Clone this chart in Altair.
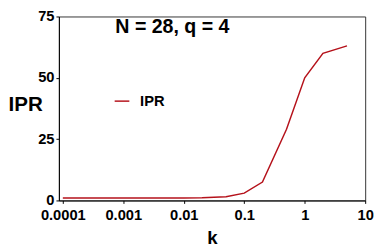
import altair as alt
import pandas as pd

k_vals = [0.0001, 0.001, 0.01, 0.02, 0.05, 0.1, 0.2, 0.5, 1, 2, 5]
ipr_vals = [1.0, 1.0, 1.0, 1.1, 1.5, 3.0, 7.5, 29.0, 50.0, 60.0, 63.0]
series = ["IPR"] * len(k_vals)
x_ticks = [0.0001, 0.001, 0.01, 0.1, 1, 10]
y_ticks = [0, 25, 50, 75]
title_text = "N = 28, q = 4"

df = pd.DataFrame({"k": k_vals, "IPR": ipr_vals, "series": series})

FONT = "Liberation Sans"

line = alt.Chart(df).mark_line(strokeWidth=1.5, clip=True).encode(
    x=alt.X("k:Q",
            scale=alt.Scale(type="log", domain=[10 ** -4.065, 10], nice=False),
            axis=alt.Axis(values=x_ticks, format="~g", title="k", grid=False,
                          labelFont=FONT, labelFontSize=15, labelFontWeight="bold",
                          labelColor="black", titleFont=FONT, titleFontSize=19,
                          titleFontWeight="bold", titleColor="black", tickSize=3,
                          labelPadding=4, titlePadding=7, domainColor="black",
                          tickColor="black", labelFlush=False, labelOverlap=False)),
    y=alt.Y("IPR:Q",
            scale=alt.Scale(domain=[0, 75], nice=False),
            axis=alt.Axis(values=y_ticks, title="IPR", grid=False,
                          labelFont=FONT, labelFontSize=15, labelFontWeight="bold",
                          labelColor="black", titleFont=FONT, titleFontSize=21,
                          titleFontWeight="bold", titleColor="black", titleAngle=0,
                          titleAlign="left", titleBaseline="middle", titleX=-52, titleY=90,
                          tickSize=3, labelPadding=2, labelOffset=-1, domainColor="black",
                          tickColor="black", labelFlush=False)),
    color=alt.Color("series:N",
                    scale=alt.Scale(domain=["IPR"], range=["#b5121b"]),
                    legend=alt.Legend(title=None, orient="none", legendX=56, legendY=78,
                                      symbolType="stroke", symbolSize=225,
                                      symbolStrokeWidth=1.5, labelFont=FONT,
                                      labelFontSize=15, labelFontWeight="bold",
                                      labelColor="black", labelOffset=10)),
)

title_df = pd.DataFrame({"t": [title_text]})
title = alt.Chart(title_df).mark_text(
    font=FONT, fontSize=20, fontWeight="bold", color="black", align="center",
    baseline="middle"
).encode(text="t:N", x=alt.value(116), y=alt.value(11))

chart = alt.layer(line, title).properties(
    width=313, height=188,
    padding={"left": 52, "top": 6, "right": 9, "bottom": 50},
    autosize=alt.AutoSizeParams(type="none"),
).configure_view(stroke="#333333", strokeWidth=1)

chart.save("out.html", embed_options={"renderer": "svg", "actions": False})
